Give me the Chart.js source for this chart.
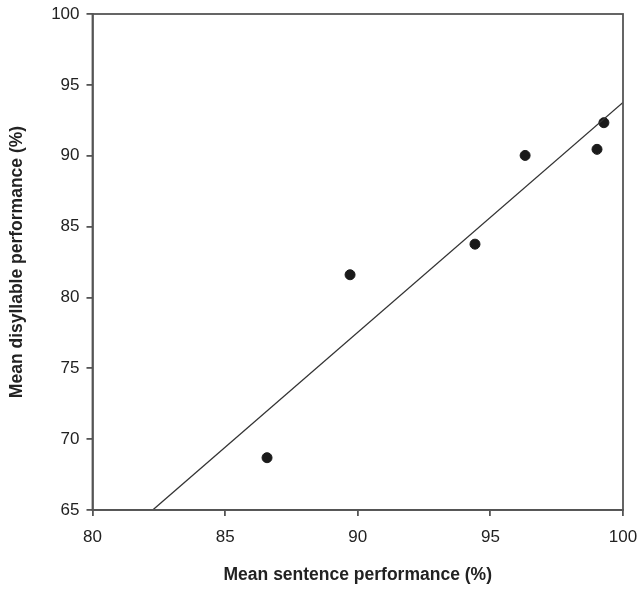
<!DOCTYPE html>
<html>
<head>
<meta charset="utf-8">
<script src="https://cdn.jsdelivr.net/npm/chart.js@4/dist/chart.umd.min.js"></script>
<style>
  html, body { margin: 0; padding: 0; background: #fff; }
  #wrap { width: 641px; height: 591px; }
</style>
</head>
<body>
<div id="wrap"><canvas id="chart" width="641" height="591"></canvas></div>
<script>
// --- data ---
const sentencePerf = [86.58, 89.71, 94.42, 96.31, 99.02, 99.28];
const disyllablePerf = [68.69, 81.60, 83.76, 90.02, 90.45, 92.33];
const fitX = [82.27, 100];
const fitY = [65, 93.76];
const xTicks = [80, 85, 90, 95, 100];
const yTicks = [65, 70, 75, 80, 85, 90, 95, 100];

const AXIS = '#555';
const TEXT = '#222';
const FONT = 'Liberation Sans, Arial, sans-serif';

// closes the box on top and right
const frame = {
  id: 'frame',
  afterDraw(chart) {
    const { ctx, chartArea: a } = chart;
    ctx.save();
    ctx.strokeStyle = AXIS;
    ctx.lineWidth = 1.8;
    ctx.strokeRect(a.left, a.top, a.right - a.left, a.bottom - a.top);
    ctx.restore();
  }
};

new Chart(document.getElementById('chart').getContext('2d'), {
  type: 'scatter',
  data: {
    datasets: [
      {
        label: 'fit',
        type: 'line',
        data: fitX.map((x, i) => ({ x, y: fitY[i] })),
        borderColor: '#333',
        borderWidth: 1.3,
        pointRadius: 0,
        fill: false
      },
      {
        label: 'listeners',
        data: sentencePerf.map((x, i) => ({ x, y: disyllablePerf[i] })),
        backgroundColor: '#1a1a1a',
        borderColor: '#1a1a1a',
        pointRadius: 5,
        pointHoverRadius: 5
      }
    ]
  },
  options: {
    responsive: false,
    animation: false,
    layout: { padding: { top: 14, right: 18, left: 0, bottom: 0 } },
    plugins: { legend: { display: false }, tooltip: { enabled: false } },
    scales: {
      x: {
        type: 'linear',
        min: xTicks[0],
        max: xTicks[xTicks.length - 1],
        afterBuildTicks: s => { s.ticks = xTicks.map(v => ({ value: v })); },
        afterFit: s => { s.height = 81; s.paddingLeft = 0; s.paddingRight = 0; },
        grid: { drawOnChartArea: false, drawTicks: true, tickLength: 6, color: AXIS, lineWidth: 1.8 },
        border: { display: true, color: AXIS, width: 1.8 },
        ticks: { color: TEXT, padding: 11, font: { family: FONT, size: 17 } },
        title: {
          display: true,
          text: 'Mean sentence performance (%)',
          color: TEXT,
          padding: { top: 0, bottom: 5 },
          font: { family: FONT, size: 17.5, weight: 'bold' }
        }
      },
      y: {
        type: 'linear',
        min: yTicks[0],
        max: yTicks[yTicks.length - 1],
        afterBuildTicks: s => { s.ticks = yTicks.map(v => ({ value: v })); },
        afterFit: s => { s.width = 92.5; s.paddingTop = 0; s.paddingBottom = 0; },
        grid: { drawOnChartArea: false, drawTicks: true, tickLength: 6, color: AXIS, lineWidth: 1.8 },
        border: { display: true, color: AXIS, width: 1.8 },
        ticks: { color: TEXT, padding: 7, font: { family: FONT, size: 17 } },
        title: {
          display: true,
          text: 'Mean disyllable performance (%)',
          color: TEXT,
          padding: { top: 7, bottom: 0 },
          font: { family: FONT, size: 17.5, weight: 'bold' }
        }
      }
    }
  },
  plugins: [frame]
});
</script>
</body>
</html>
